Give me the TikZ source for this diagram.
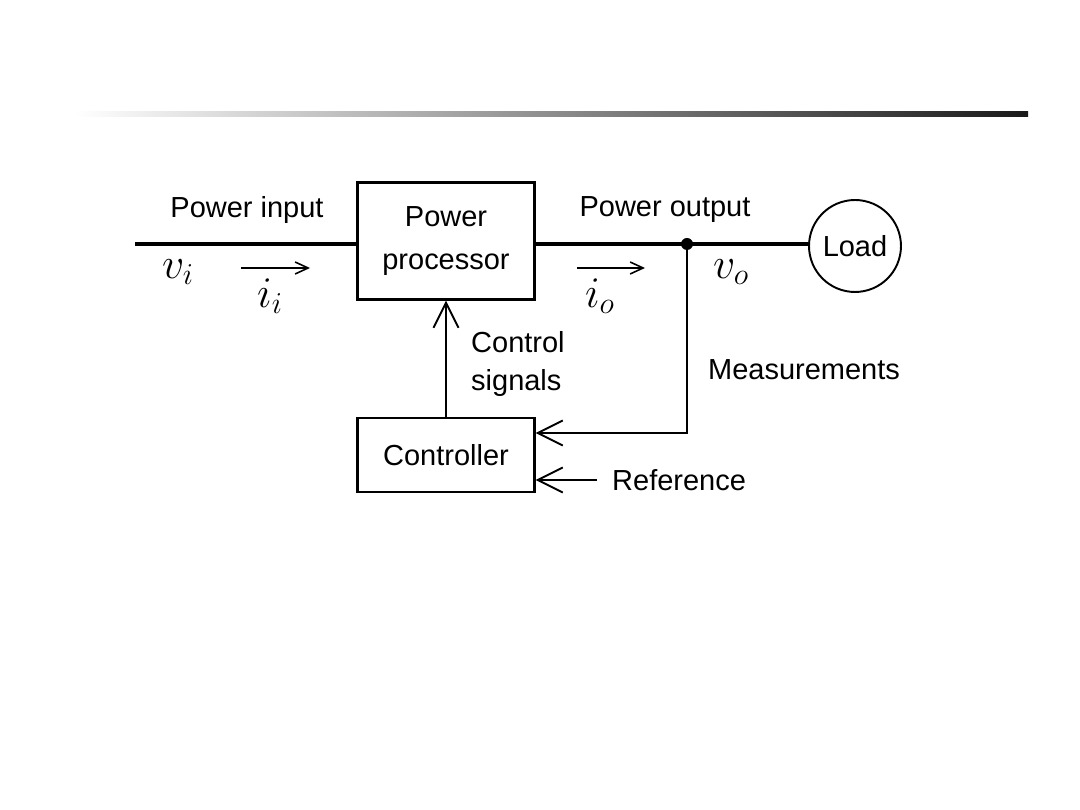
\documentclass[tikz,border=0pt]{standalone}
\usepackage{fontspec}
\setmainfont{Liberation Sans}
\usetikzlibrary{arrows.meta, positioning, calc}

\begin{document}
\begin{tikzpicture}[
    x=0.02cm, y=-0.02cm,
    font=\fontsize{16.5}{19}\selectfont,
    block/.style={draw, line width=1.3pt, minimum width=3.54cm,
                  align=center, inner sep=0pt},
    power/.style={line width=2.8pt},
    signal/.style={line width=1.1pt, -{Straight Barb[length=5mm, width=5mm]}},
    flow/.style={line width=0.9pt, -{Straight Barb[length=2.6mm, width=2.4mm]}},
    qty/.style={font=\fontsize{23}{26}\selectfont}
  ]
  \useasboundingbox (0,0) rectangle (1080,810);

  % Title rule
  \shade[left color=white, right color=black!90] (75,112) rectangle (1028,117);

  % Blocks
  \node[block, minimum height=2.34cm] (proc) at (446,241) {Power\\[5pt]processor};
  \node[block, minimum height=1.48cm] (ctrl) at (446,455) {Controller};
  \node[draw, circle, line width=1.1pt, minimum size=1.84cm, inner sep=0pt]
    (load) at (855,246) {Load};

  % Power path
  \coordinate (in) at (135,244);
  \coordinate (junc) at (687,244);
  \draw[power] (in) -- (in -| proc.west);
  \draw[power] (proc.east |- junc) -- (junc) -- (load.west |- junc);
  \fill (junc) circle (6);

  % Flow arrows
  \coordinate (ii-s) at (241,268);
  \coordinate (ii-e) at (310,268);
  \coordinate (io-s) at (577,268);
  \coordinate (io-e) at (645,268);
  \draw[flow] (ii-s) -- (ii-e);
  \draw[flow] (io-s) -- (io-e);

  % Feedback
  \coordinate (meas) at (687,433);
  \coordinate (ref) at (597,480);
  \draw[signal] (ctrl.north) -- (proc.south);
  \draw[signal] (junc) -- (meas) -- (meas -| ctrl.east);
  \draw[signal] (ref) -- (ref -| ctrl.east);

  % Labels
  \node (pin) at (247,210) {Power input};
  \node (pout) at (665,210) {Power output};
  \node[qty] (vi) at (178,272) {$v_i$};
  \node[qty] (ii) at (270,296) {$i_i$};
  \node[qty] (io) at (600,296) {$i_o$};
  \node[qty] (vo) at (731,272) {$v_o$};
  \node[anchor=west, align=left] (csig) at (465,364) {Control\\[3pt]signals};
  \node[anchor=west] (mlab) at (702,370) {Measurements};
  \node[anchor=west] (rlab) at (606,480) {Reference};
\end{tikzpicture}
\end{document}
